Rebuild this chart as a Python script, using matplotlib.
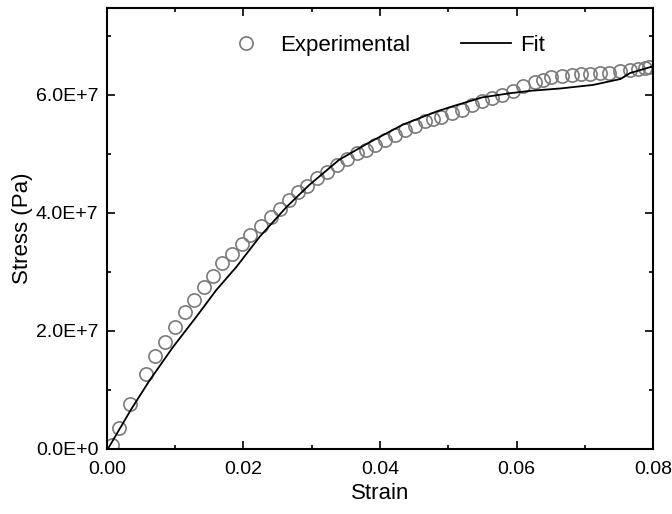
import numpy as np
import matplotlib
matplotlib.use("Agg")
import matplotlib.pyplot as plt
from matplotlib.ticker import MultipleLocator, FuncFormatter

plt.rcParams['font.family'] = ['Liberation Sans', 'DejaVu Sans']

# experimental points (strain, stress in 1E7 Pa)
exp_strain = [0.00077, 0.00176, 0.00337, 0.00567, 0.00712, 0.0085, 0.00996, 0.0114,
              0.01275, 0.0142, 0.01557, 0.0168, 0.01826, 0.01972, 0.02103, 0.02256,
              0.02397, 0.02535, 0.0267, 0.028, 0.02934, 0.0307, 0.03217, 0.03363,
              0.0351, 0.03657, 0.038, 0.0393, 0.0407, 0.0422, 0.04366, 0.04513,
              0.0466, 0.0478, 0.049, 0.0505, 0.052, 0.0534, 0.0549, 0.0564, 0.0578,
              0.0595, 0.061, 0.0627, 0.0639, 0.0651, 0.0666, 0.0681, 0.0695, 0.0707,
              0.0722, 0.0736, 0.0751, 0.0766, 0.0778, 0.0788, 0.0794]
exp_stress = [0.07, 0.36, 0.77, 1.27, 1.58, 1.81, 2.07, 2.33,
              2.53, 2.75, 2.93, 3.15, 3.30, 3.47, 3.63, 3.78,
              3.94, 4.07, 4.22, 4.35, 4.46, 4.59, 4.70, 4.81,
              4.91, 5.01, 5.07, 5.15, 5.24, 5.32, 5.41, 5.47,
              5.56, 5.60, 5.63, 5.69, 5.75, 5.83, 5.89, 5.95, 6.00,
              6.07, 6.15, 6.22, 6.26, 6.30, 6.32, 6.34, 6.36, 6.36,
              6.37, 6.38, 6.40, 6.42, 6.44, 6.46, 6.48]

# fitted curve
fit_strain = [0.0003, 0.0036, 0.0063, 0.0097, 0.0131, 0.0160, 0.0190, 0.0224,
              0.0263, 0.0296, 0.0340, 0.0385, 0.0434, 0.0483, 0.0507, 0.0550,
              0.0591, 0.0620, 0.0664, 0.0712, 0.0752, 0.0766, 0.0798]
fit_stress = [0.03, 0.68, 1.17, 1.73, 2.24, 2.69, 3.09, 3.60,
              4.10, 4.47, 4.90, 5.20, 5.50, 5.72, 5.81, 5.96,
              6.03, 6.07, 6.11, 6.17, 6.27, 6.37, 6.48]

fig = plt.figure(figsize=(6.72, 5.14), dpi=100)
ax = fig.add_axes([0.159, 0.1265, 0.813, 0.8575])

ax.plot(np.array(exp_strain), np.array(exp_stress) * 1e7, 'o', ms=9.5, mfc='none',
        mec='#7a7a7a', mew=1.2, label='Experimental')
ax.plot(np.array(fit_strain), np.array(fit_stress) * 1e7, '-', color='black', lw=1.3,
        label='Fit')

ax.set_xlim(0, 0.08)
ax.set_ylim(0, 7.47e7)
ax.xaxis.set_major_locator(MultipleLocator(0.02))
ax.xaxis.set_minor_locator(MultipleLocator(0.01))
ax.yaxis.set_major_locator(MultipleLocator(2e7))
ax.yaxis.set_minor_locator(MultipleLocator(1e7))
ax.xaxis.set_major_formatter(FuncFormatter(lambda v, p: '%.2f' % v))
ax.yaxis.set_major_formatter(FuncFormatter(lambda v, p: '%.1fE+%d' % (v / 1e7, 7) if v else '0.0E+0'))

ax.tick_params(which='both', direction='in', top=True, right=True, labelsize=14, width=1.2)
ax.tick_params(which='major', length=6, pad=6)
ax.tick_params(axis='x', which='major', pad=9)
ax.tick_params(which='minor', length=3)
for s in ax.spines.values():
    s.set_linewidth(1.5)

ax.set_xlabel('Strain', fontsize=16, labelpad=3)
ax.set_ylabel('Stress (Pa)', fontsize=16, labelpad=2)

ax.legend(loc='upper center', ncol=2, frameon=False, fontsize=16, columnspacing=2.3,
          handlelength=2.25, handletextpad=0.4, bbox_to_anchor=(0.505, 0.985))

fig.savefig('out.png', dpi=100)
